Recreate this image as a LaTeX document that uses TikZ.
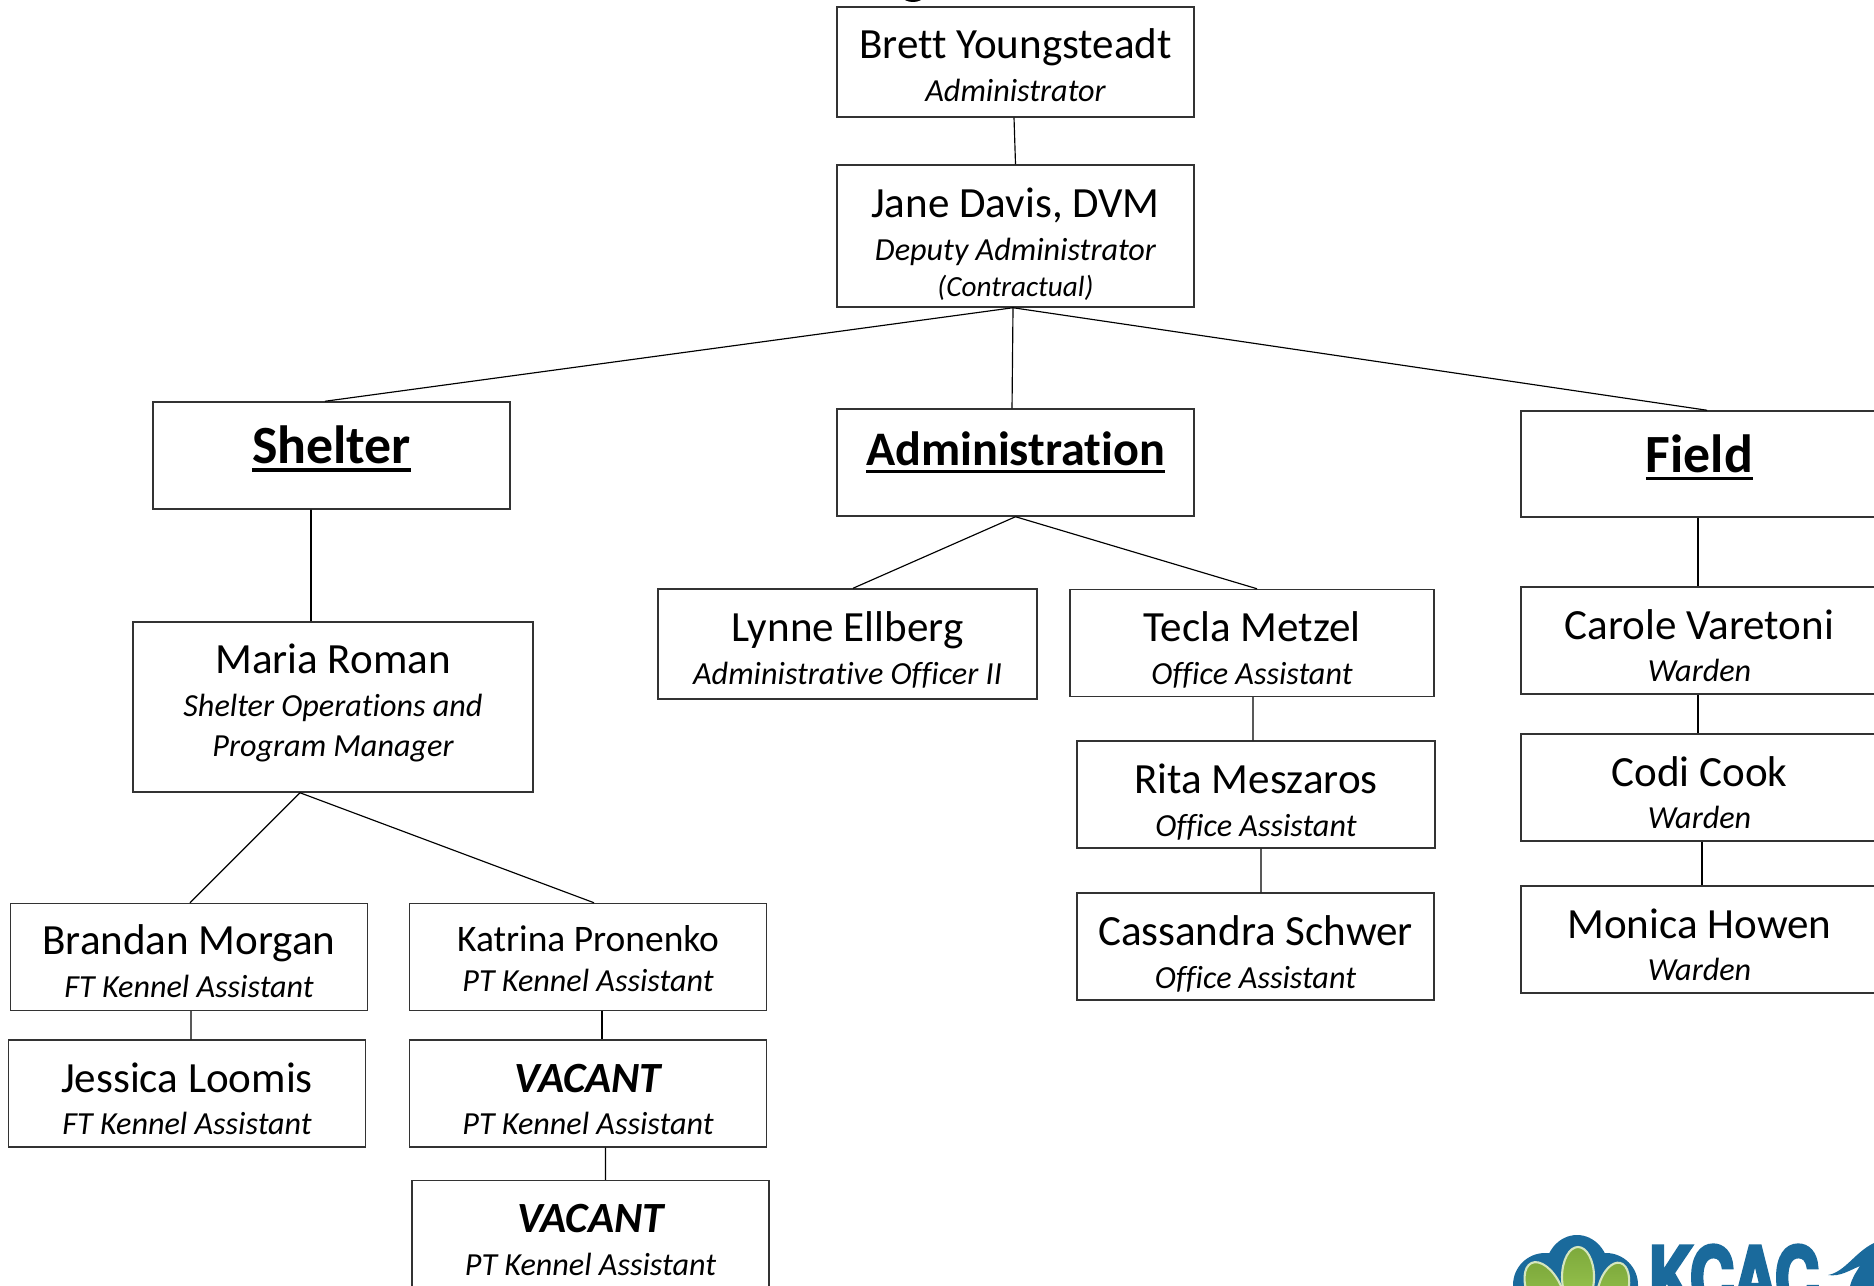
\documentclass[tikz,border=0pt]{standalone}
\usepackage{fontspec}
\setmainfont[Ligatures=NoCommon]{Carlito}
\usetikzlibrary{positioning}
\definecolor{logoblue}{HTML}{1A6A9C}
\definecolor{logogreen}{HTML}{7DA93C}
\definecolor{logolight}{HTML}{9CC850}
\definecolor{logorim}{HTML}{D5E6BE}
\newfontfamily\logofont[BoldFeatures={FakeBold=5}]{TeX Gyre Heros}
\newcommand{\namesize}{\fontsize{12.25}{12.25}\selectfont}
\newcommand{\rolesize}{\fontsize{9.15}{9.15}\selectfont\itshape}
% #1 = lift of first baseline above the centre, #2 = text
\newcommand{\orgtext}[2]{\raisebox{#1}[0pt][0pt]{\begin{tabular}[t]{@{}c@{}}#2\end{tabular}}}
\newcommand{\namerow}[2][0.1pt]{\namesize #2\\[#1]}
\newcommand{\rolerow}[1]{\rolesize #1}
\newcommand{\headtext}[2][15.3]{\vtop{\hbox{\fontsize{#1}{#1}\selectfont\bfseries #2}\kern1.1pt\hrule height 1pt}}
\tikzset{
  orgbox/.style={draw=black!80, line width=0.4pt, rectangle, inner sep=0pt, minimum width=3.57cm, minimum height=1.07cm},
  orgline/.style={draw=black, line width=0.33pt}
}

\begin{document}
\begin{tikzpicture}[x=0.01cm,y=-0.01cm]
\useasboundingbox (0,0) rectangle (1874,1286);
\clip (0,0) rectangle (1874,1286);
\fill[white] (0,0) rectangle (1874,1286);

% Title remnant at the top edge
\fill[black] (913,-3) ellipse (10 and 5);

% Top of the chart
\node[orgbox, minimum height=1.10cm] (brett) at (1015.5,62) {\orgtext{1pt}{\namerow{Brett Youngsteadt}\rolerow{Administrator}}};
\node[orgbox, minimum height=1.42cm] (jane) at (1015.5,236) {\orgtext{5.2pt}{\namerow{Jane Davis, DVM}\rolerow{Deputy Administrator}\\[-1.7pt]\rolerow{\fontsize{8.3}{8.3}\selectfont (Contractual)}}};

% Divisions
\node[orgbox, minimum height=1.07cm] (shelter) at (331.5,455.5) {\raisebox{-2.4pt}[0pt][0pt]{\headtext{Shelter}}};
\node[orgbox] (admin) at (1015.5,462.5) {\raisebox{-0.9pt}[0pt][0pt]{\headtext[13.7]{Administration}}};
\node[orgbox, minimum height=1.06cm] (field) at (1699.5,464) {\raisebox{-2.4pt}[0pt][0pt]{\headtext{Field}}};

% Shelter staff
\node[orgbox, minimum width=4.00cm, minimum height=1.70cm] (maria) at (333,707) {\orgtext{9.4pt}{\namerow{Maria Roman}\rolerow{Shelter Operations and}\\[-0.7pt]\rolerow{Program Manager}}};
\node[orgbox] (brandan) at (189,957) {\orgtext{0.7pt}{\namerow{Brandan Morgan}\rolerow{FT Kennel Assistant}}};
\node[orgbox] (jessica) at (187,1093.5) {\orgtext{0.4pt}{\namerow{Jessica Loomis}\rolerow{FT Kennel Assistant}}};
\node[orgbox] (katrina) at (588,957) {\orgtext{1.7pt}{\namerow[-0.5pt]{\fontsize{10.65}{10.65}\selectfont Katrina Pronenko}\rolerow{PT Kennel Assistant}}};
\node[orgbox] (vacantone) at (588,1093.5) {\orgtext{0.4pt}{\namerow{\bfseries\itshape VACANT}\rolerow{PT Kennel Assistant}}};
\node[orgbox] (vacanttwo) at (590.5,1234) {\orgtext{0.4pt}{\namerow{\bfseries\itshape VACANT}\rolerow{PT Kennel Assistant}}};

% Administration staff
\node[orgbox, minimum width=3.79cm, minimum height=1.10cm] (lynne) at (847.5,644) {\orgtext{0.6pt}{\namerow{Lynne Ellberg}\rolerow{Administrative Officer II}}};
\node[orgbox, minimum width=3.64cm] (tecla) at (1252,643) {\orgtext{0.3pt}{\namerow{Tecla Metzel}\rolerow{Office Assistant}}};
\node[orgbox, minimum width=3.58cm] (rita) at (1256,794.5) {\orgtext{0.3pt}{\namerow{Rita Meszaros}\rolerow{Office Assistant}}};
\node[orgbox] (cassandra) at (1255.5,946.5) {\orgtext{0.3pt}{\namerow{Cassandra Schwer}\rolerow{Office Assistant}}};

% Field staff
\node[orgbox] (carole) at (1699.5,640.5) {\orgtext{0.4pt}{\namerow{Carole Varetoni}\rolerow{Warden}}};
\node[orgbox] (codi) at (1699.5,787.5) {\orgtext{0.4pt}{\namerow{Codi Cook}\rolerow{Warden}}};
\node[orgbox] (monica) at (1699.5,939.5) {\orgtext{0.4pt}{\namerow{Monica Howen}\rolerow{Warden}}};

% Connectors
\draw[orgline] ([xshift=-0.15mm]brett.south) -- ([xshift=0mm]jane.north);
\draw[orgline] ([xshift=-0.25mm]jane.south) -- ([xshift=-0.65mm]shelter.north);
\draw[orgline] ([xshift=-0.25mm]jane.south) -- ([xshift=-0.35mm]admin.north);
\draw[orgline] ([xshift=-0.25mm]jane.south) -- ([xshift=0.75mm]field.north);
\draw[orgline, line width=0.45pt] ([xshift=-2.05mm]shelter.south) -- ([xshift=-2.2mm]maria.north);
\draw[orgline] ([xshift=-3.3mm]maria.south) -- ([xshift=0.1mm]brandan.north);
\draw[orgline] ([xshift=-3.3mm]maria.south) -- ([xshift=0.6mm]katrina.north);
\draw[orgline] ([xshift=0.2mm]brandan.south) -- ([xshift=0.4mm]jessica.north);
\draw[orgline] ([xshift=1.4mm]katrina.south) -- ([xshift=1.4mm]vacantone.north);
\draw[orgline] ([xshift=1.75mm]vacantone.south) -- ([xshift=1.5mm]vacanttwo.north);
\draw[orgline] (admin.south) -- ([xshift=0.55mm]lynne.north);
\draw[orgline] (admin.south) -- ([xshift=0.5mm]tecla.north);
\draw[orgline] ([xshift=0.1mm]tecla.south) -- ([xshift=-0.3mm]rita.north);
\draw[orgline] ([xshift=0.5mm]rita.south) -- ([xshift=0.55mm]cassandra.north);
\draw[orgline, line width=0.45pt] ([xshift=-0.15mm]field.south) -- ([xshift=-0.15mm]carole.north);
\draw[orgline] ([xshift=-0.15mm]carole.south) -- ([xshift=-0.15mm]codi.north);
\draw[orgline] ([xshift=0.25mm]codi.south) -- ([xshift=0.25mm]monica.north);

% Logo
\fill[logoblue] (1545,1285) circle (32);
\fill[logoblue] (1577,1271) ellipse (32 and 36);
\fill[logoblue] (1606,1285) circle (32);
\foreach \cx/\cy/\lobeangle/\lobex/\lobey in {1545/1292/25/17/32, 1578/1277/0/16/30, 1613/1290/-15/15/28} {
  \shade[draw=logorim, line width=0.6pt, top color=logogreen, bottom color=logolight, rotate around={\lobeangle:(\cx,\cy)}] (\cx,\cy) ellipse [x radius=\lobex, y radius=\lobey];
}
\node[anchor=base west, inner sep=0pt, text=logoblue, font=\logofont\bfseries\fontsize{24}{24}\selectfont] (logotext) at (1648,1308) {\scalebox{0.73}[1]{KCAC}};
\fill[logoblue] (1828,1275) .. controls (1845,1272) and (1855,1252) .. (1874,1243) -- (1874,1286) -- (1850,1286) .. controls (1852,1278) and (1856,1272) .. (1860,1266) .. controls (1850,1270) and (1840,1277) .. (1828,1275) -- cycle;
\end{tikzpicture}
\end{document}
